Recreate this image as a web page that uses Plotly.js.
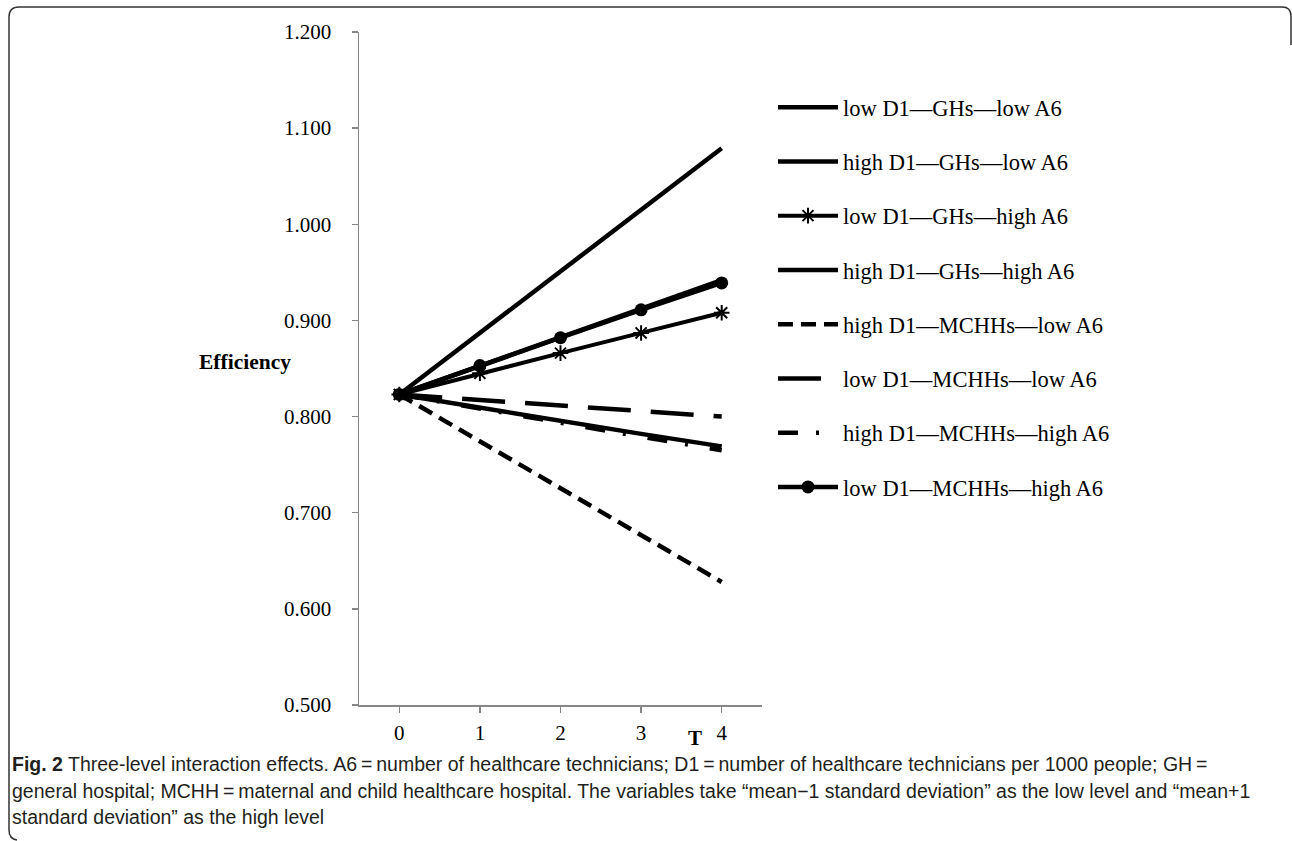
<!DOCTYPE html>
<html>
<head>
<meta charset="utf-8">
<script src="https://cdn.plot.ly/plotly-3.0.1.min.js"></script>
<style>
  html, body { margin: 0; padding: 0; background: #fff; }
  #chart { width: 1292px; height: 841px; }
</style>
</head>
<body>
<div id="chart"></div>
<script>
// ---- data ----
var T = [0, 1, 2, 3, 4];
var tickLabels = ['0', '1', '2', '3', '4'];
var seriesNames = [
  'low D1\u2014GHs\u2014low A6',
  'high D1\u2014GHs\u2014low A6',
  'low D1\u2014GHs\u2014high A6',
  'high D1\u2014GHs\u2014high A6',
  'high D1\u2014MCHHs\u2014low A6',
  'low D1\u2014MCHHs\u2014low A6',
  'high D1\u2014MCHHs\u2014high A6',
  'low D1\u2014MCHHs\u2014high A6'
];
var lowD1_GH_lowA6    = [0.823, 0.887, 0.951, 1.015, 1.079];
var highD1_GH_lowA6   = [0.823, 0.809, 0.796, 0.782, 0.769];
var lowD1_GH_highA6   = [0.823, 0.845, 0.866, 0.887, 0.908];
var highD1_GH_highA6  = [0.823, 0.853, 0.883, 0.912, 0.942];
var highD1_MC_lowA6   = [0.823, 0.774, 0.725, 0.677, 0.628];
var lowD1_MC_lowA6    = [0.823, 0.817, 0.812, 0.806, 0.800];
var highD1_MC_highA6  = [0.823, 0.808, 0.794, 0.779, 0.765];
var lowD1_MC_highA6   = [0.823, 0.853, 0.882, 0.911, 0.939];
var yTitle = 'Efficiency';
var xTitle = 'T';
var captionLines = [
  '<b>Fig. 2</b> Three-level interaction effects. A6\u2009=\u2009number of healthcare technicians; D1\u2009=\u2009number of healthcare technicians per 1000 people; GH\u2009=',
  'general hospital; MCHH\u2009=\u2009maternal and child healthcare hospital. The variables take \u201cmean\u22121 standard deviation\u201d as the low level and \u201cmean+1',
  'standard deviation\u201d as the high level'
];

// ---- geometry ----
var W = 1292, H = 841;
var M = { l: 359, r: 530, t: 32, b: 136 };
var PW = W - M.l - M.r, PH = H - M.t - M.b;
function px(x) { return (x - M.l) / PW; }
function py(y) { return 1 - (y - M.t) / PH; }

var serif = 'Liberation Serif, Times New Roman, serif';
var black = '#000000';

function mk(name, y, dash, width, marker, idx) {
  var t = {
    x: T, y: y, name: name, type: 'scatter',
    mode: marker ? 'lines+markers' : 'lines',
    line: { color: black, width: width, dash: dash },
    legendgroup: 'g' + idx,
    hoverinfo: 'x+y+name'
  };
  if (marker) t.marker = marker;
  return t;
}

var traces = [
  mk(seriesNames[0], lowD1_GH_lowA6, 'solid', 4.5, null, 0),
  mk(seriesNames[1], highD1_GH_lowA6, 'solid', 4.5, null, 1),
  mk(seriesNames[2], lowD1_GH_highA6, 'solid', 4, { symbol: 'asterisk-open', size: 13, color: black, line: { color: black, width: 2 } }, 2),
  mk(seriesNames[3], highD1_GH_highA6, 'solid', 4.5, null, 3),
  mk(seriesNames[4], highD1_MC_lowA6, '15px,8px', 4.5, null, 4),
  mk(seriesNames[5], lowD1_MC_lowA6, '43px,20px', 4.5, null, 5),
  mk(seriesNames[6], highD1_MC_highA6, '20px,18px,3px,22px', 4.5, null, 6),
  mk(seriesNames[7], lowD1_MC_highA6, 'solid', 4.5, { symbol: 'circle', size: 13, color: black }, 7)
];

var annotations = [
  { xref: 'paper', yref: 'paper', x: px(293), y: py(362), xanchor: 'right', yanchor: 'middle',
    text: '<b>' + yTitle + '</b>', showarrow: false, font: { family: serif, size: 21.5, color: black } },
  { xref: 'paper', yref: 'paper', x: px(695), y: py(738), xanchor: 'center', yanchor: 'middle',
    text: '<b>' + xTitle + '</b>', showarrow: false, font: { family: serif, size: 21, color: black } }
];
var capY = [764, 791, 817];
for (var i = 0; i < captionLines.length; i++) {
  annotations.push({
    xref: 'paper', yref: 'paper', x: px(10), y: py(capY[i]), xanchor: 'left', yanchor: 'middle',
    text: captionLines[i], showarrow: false, align: 'left',
    font: { family: 'Liberation Sans, Arial, sans-serif', size: 19.5, color: '#231f20' }
  });
}

// frame (rounded, open on right/bottom)
var fr = 'M' + px(1291) + ',' + py(45) +
  ' L' + px(1291) + ',' + py(16) +
  ' Q' + px(1291) + ',' + py(7) + ' ' + px(1282) + ',' + py(7) +
  ' L' + px(19) + ',' + py(7) +
  ' Q' + px(9) + ',' + py(7) + ' ' + px(9) + ',' + py(17) +
  ' L' + px(9) + ',' + py(830) +
  ' Q' + px(9) + ',' + py(839) + ' ' + px(17) + ',' + py(840);

var layout = {
  width: W, height: H,
  margin: M,
  paper_bgcolor: '#ffffff', plot_bgcolor: '#ffffff',
  showlegend: true,
  legend: {
    x: px(773), y: py(86), xanchor: 'left', yanchor: 'top',
    font: { family: serif, size: 22.5, color: black },
    itemwidth: 60, traceorder: 'grouped', tracegroupgap: 22,
    bgcolor: 'rgba(0,0,0,0)', borderwidth: 0
  },
  xaxis: {
    range: [-0.5, 4.5], tickmode: 'array', tickvals: T, ticktext: tickLabels,
    showline: true, linecolor: '#868686', linewidth: 1.5,
    ticks: 'outside', ticklen: 6, tickwidth: 1.5, tickcolor: '#868686',
    showgrid: false, zeroline: false, ticklabelstandoff: 2,
    tickfont: { family: serif, size: 21, color: black }
  },
  yaxis: {
    range: [0.5, 1.2], dtick: 0.1, tick0: 0.5, tickformat: '.3f',
    showline: true, linecolor: '#868686', linewidth: 1.5,
    ticks: 'outside', ticklen: 6, tickwidth: 1.5, tickcolor: '#868686',
    showgrid: false, zeroline: false, ticklabelstandoff: 16,
    tickfont: { family: serif, size: 21, color: black }
  },
  annotations: annotations,
  shapes: [
    { type: 'path', xref: 'paper', yref: 'paper', path: fr, line: { color: '#333333', width: 1.5 }, layer: 'above' }
  ]
};

Plotly.newPlot('chart', traces, layout, { displayModeBar: false, staticPlot: true });
</script>
</body>
</html>
